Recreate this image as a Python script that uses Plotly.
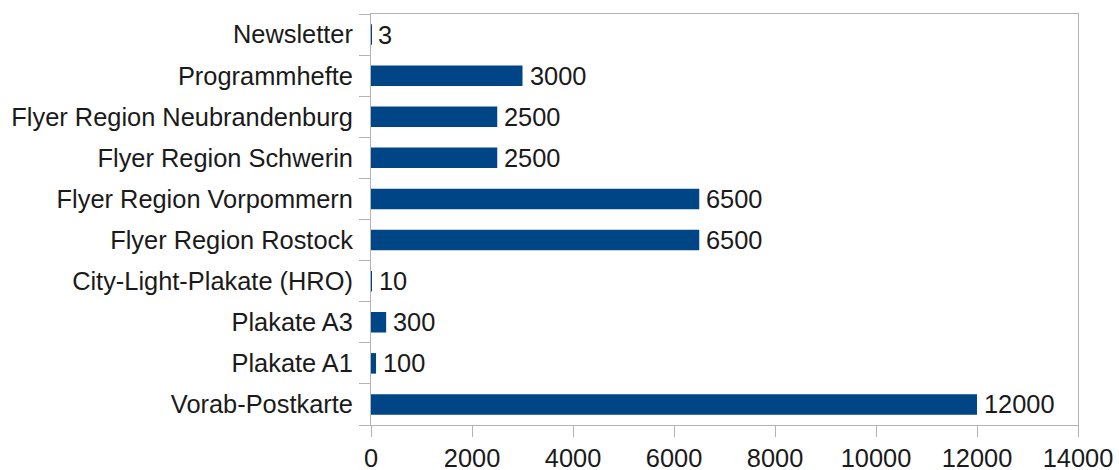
import plotly.graph_objects as go

# Print run per advertising medium (bottom to top)
categories = [
    "Vorab-Postkarte",
    "Plakate A1",
    "Plakate A3",
    "City-Light-Plakate (HRO)",
    "Flyer Region Rostock",
    "Flyer Region Vorpommern",
    "Flyer Region Schwerin",
    "Flyer Region Neubrandenburg",
    "Programmhefte",
    "Newsletter",
]
values = [12000, 100, 300, 10, 6500, 6500, 2500, 2500, 3000, 3]
x_ticks = [0, 2000, 4000, 6000, 8000, 10000, 12000, 14000]

FONT = "Liberation Sans, Arial, sans-serif"
FSIZE = 25.4
TEXT = "#1a1a1a"
AXIS = "#b3b3b3"
BAR = "#004586"

fig = go.Figure(
    go.Bar(
        x=values,
        y=categories,
        orientation="h",
        marker=dict(color=BAR, line=dict(width=0)),
        hoverinfo="x+y",
    )
)

# value labels to the right of each bar
for cat, val in zip(categories, values):
    fig.add_annotation(
        x=val, y=cat, text=str(val), showarrow=False,
        xanchor="left", yanchor="middle", xshift=5,
        font=dict(family=FONT, size=FSIZE, color=TEXT),
    )

fig.update_layout(
    width=1119,
    height=470,
    margin=dict(l=371, r=41, t=14, b=45),
    paper_bgcolor="white",
    plot_bgcolor="white",
    bargap=0.5,
    showlegend=False,
    font=dict(family=FONT, size=FSIZE, color=TEXT),
)

fig.update_xaxes(
    range=[0, 14000],
    tickvals=x_ticks,
    ticktext=[str(v) for v in x_ticks],
    showgrid=False,
    zeroline=False,
    showline=True,
    linecolor=AXIS,
    linewidth=1,
    mirror=True,
    ticks="outside",
    ticklen=11,
    tickcolor=AXIS,
    ticklabelstandoff=0,
    automargin=False,
    tickfont=dict(family=FONT, size=FSIZE, color=TEXT),
)

fig.update_yaxes(
    categoryorder="array",
    categoryarray=categories,
    showgrid=False,
    zeroline=False,
    showline=True,
    linecolor=AXIS,
    linewidth=1,
    mirror=True,
    ticks="outside",
    tickson="boundaries",
    ticklen=11,
    tickcolor=AXIS,
    ticklabelstandoff=12,
    automargin=False,
    tickfont=dict(family=FONT, size=FSIZE, color=TEXT),
)

fig.write_html("out.html")
